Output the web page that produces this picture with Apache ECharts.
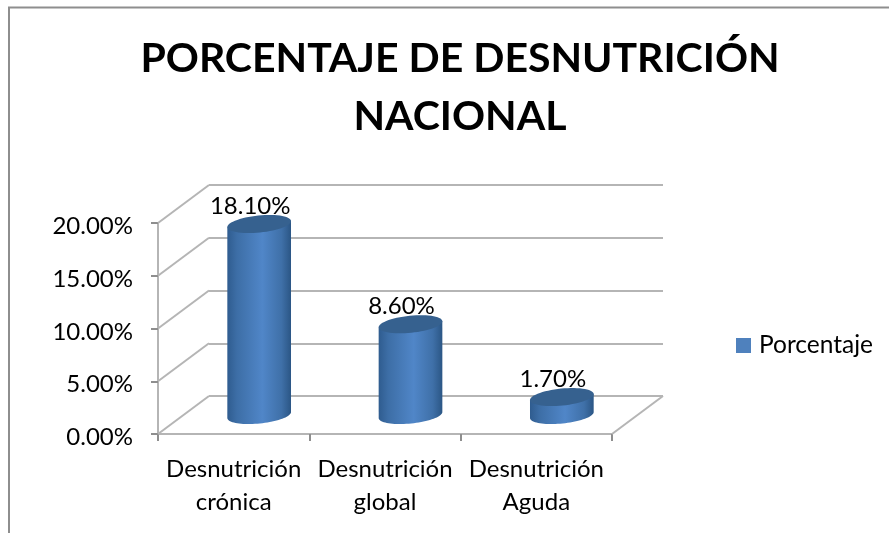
<!DOCTYPE html>
<html><head><meta charset="utf-8">
<style>html,body{margin:0;padding:0;background:#fff}#c{width:889px;height:533px}</style>
<script src="https://cdn.jsdelivr.net/npm/echarts@6/dist/echarts.min.js"></script>
</head><body><div id="c"></div>
<script>
const categories = ['Desnutrición\ncrónica', 'Desnutrición\nglobal', 'Desnutrición\nAguda'];
const seriesName = 'Porcentaje';
const values = [18.1, 8.6, 1.7];
const valueLabels = ['18.10%', '8.60%', '1.70%'];
const yTicks = [0, 5, 10, 15, 20];
const titleText = 'PORCENTAJE DE DESNUTRICIÓN\nNACIONAL';

const FONT = 'Lato';
const DEPTH_X = 51, DEPTH_Y = 38;
const GREY = '#b5b5b5';

function ellipsePts(cx, cy, rx, ry, rot, from, to, n) {
  const pts = [], c = Math.cos(rot), s = Math.sin(rot);
  for (let i = 0; i <= n; i++) {
    const t = from + (to - from) * i / n;
    const x = rx * Math.cos(t), y = ry * Math.sin(t);
    pts.push([cx + x * c - y * s, cy + x * s + y * c]);
  }
  return pts;
}

const chart = echarts.init(document.getElementById('c'), null, {renderer: 'canvas'});
chart.setOption({
  animation: false,
  backgroundColor: '#fff',
  title: {
    text: titleText, left: 455, top: 25, textAlign: 'center',
    textStyle: {fontFamily: FONT, fontSize: 41, fontWeight: 'bold', color: '#000', lineHeight: 58}
  },
  legend: {
    left: 736, top: 333, padding: 0, icon: 'rect', itemWidth: 15, itemHeight: 15, itemGap: 0,
    data: [seriesName],
    textStyle: {fontFamily: FONT, fontSize: 24.5, color: '#000', padding: [0, 0, 0, 3]}
  },
  graphic: [
    {type: 'polyline', silent: true, z: 0,
     shape: {points: [[9, 533], [9, 7.5], [889, 7.5]]},
     style: {stroke: '#8e8e8e', lineWidth: 2, fill: null}}
  ],
  grid: [
    {left: 158, right: 277, top: 223, bottom: 99},
    {left: 209, right: 226, top: 185, bottom: 137}
  ],
  xAxis: [
    {type: 'category', gridIndex: 0, data: categories,
     axisLine: {lineStyle: {color: GREY, width: 2}},
     axisTick: {show: true, length: 7, lineStyle: {color: '#8e8e8e', width: 2}},
     axisLabel: {fontFamily: FONT, fontSize: 24, color: '#000', lineHeight: 33, margin: 19, interval: 0}},
    {type: 'category', gridIndex: 1, data: categories, show: false}
  ],
  yAxis: [
    {type: 'value', gridIndex: 0, min: 0, max: 20, interval: 5,
     axisLine: {show: true, lineStyle: {color: GREY, width: 2}},
     axisTick: {show: true, length: 7, lineStyle: {color: '#8e8e8e', width: 2}},
     splitLine: {show: false},
     axisLabel: {fontFamily: FONT, fontSize: 24, color: '#000', margin: 25, verticalAlign: 'middle', lineHeight: 24,
       formatter: v => '{a|' + v.toFixed(2) + '%}',
       rich: {a: {fontFamily: FONT, fontSize: 24, color: '#000', padding: [7, 0, 0, 0]}}}},
    {type: 'value', gridIndex: 1, min: 0, max: 20, interval: 5,
     axisLine: {show: false}, axisTick: {show: false}, axisLabel: {show: false},
     splitLine: {show: true, lineStyle: {color: GREY, width: 2}}}
  ],
  series: [
    {type: 'custom', name: 'walls', xAxisIndex: 0, yAxisIndex: 0, silent: true, z: 1,
     legendHoverLink: false, clip: false,
     data: yTicks,
     renderItem(params, api) {
       const tick = api.value(0);
       const band = api.size([1, 0])[0];
       const p = api.coord([0, tick]);
       const x0 = p[0] - band / 2;
       const children = [{type: 'line', shape: {x1: x0, y1: p[1], x2: x0 + DEPTH_X, y2: p[1] - DEPTH_Y},
         style: {stroke: GREY, lineWidth: 2}}];
       if (tick === 0) {
         const xr = x0 + band * categories.length;
         children.push({type: 'line', shape: {x1: xr, y1: p[1], x2: xr + DEPTH_X, y2: p[1] - DEPTH_Y},
           style: {stroke: GREY, lineWidth: 2}});
       }
       return {type: 'group', children};
     },
     encode: {y: 0}},
    {type: 'custom', name: seriesName, xAxisIndex: 0, yAxisIndex: 0, z: 3, clip: false,
     itemStyle: {color: '#4f81bd'},
     data: values.map((v, i) => [i, v]),
     encode: {x: 0, y: 1},
     renderItem(params, api) {
       const i = api.value(0), v = api.value(1);
       const top = api.coord([i, v]), base = api.coord([i, 0]);
       const cx = top[0] + DEPTH_X / 2, rx = 32, ry = 8.5, rot = -0.1;
       const yTop = top[1] - DEPTH_Y / 2, yBase = base[1] - DEPTH_Y / 2;
       const body = ellipsePts(cx, yTop, rx, ry, rot, Math.PI, 0, 1)
         .concat(ellipsePts(cx, yBase, rx, ry, rot, 0, Math.PI, 40));
       return {type: 'group', children: [
         {type: 'polygon', shape: {points: body}, style: {fill: {
           type: 'linear', x: 0, y: 0, x2: 1, y2: 0, colorStops: [
             {offset: 0, color: '#2f5c8f'}, {offset: 0.15, color: '#3d6ea6'},
             {offset: 0.55, color: '#5086c8'}, {offset: 0.85, color: '#3f70a8'},
             {offset: 1, color: '#2b5685'}]}}},
         {type: 'polygon', shape: {points: ellipsePts(cx, yTop, rx, ry, rot, 0, Math.PI * 2, 60)},
          style: {fill: '#36618f'}},
         {type: 'text', z2: 5, style: {text: valueLabels[i], x: cx - 9, y: yTop - 18, align: 'center',
           verticalAlign: 'middle', fontFamily: FONT, fontSize: 24, fill: '#000'}}
       ]};
     }}
  ]
});
</script></body></html>
